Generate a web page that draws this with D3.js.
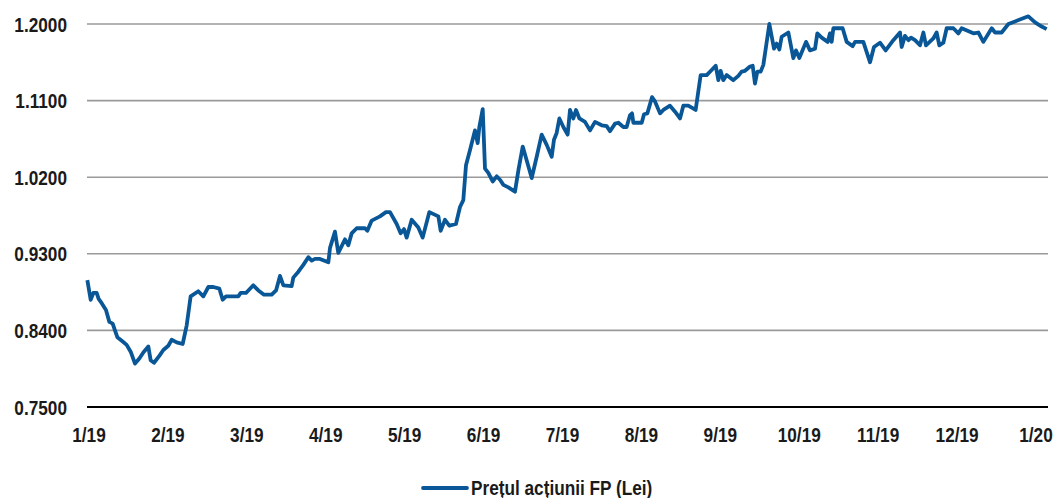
<!DOCTYPE html>
<html>
<head>
<meta charset="utf-8">
<script src="https://cdn.jsdelivr.net/npm/d3@7"></script>
<style>
  body { margin: 0; background: #fff; }
  text { font-family: "Liberation Sans", Arial, sans-serif; font-weight: bold; fill: #1a1a1a; }
</style>
</head>
<body>
<div id="chart"></div>
<script>
// months since 1/19 (x position of each read point) and share price (Lei)
const monthPos = [
  -0.021, 0.021, 0.055, 0.097, 0.122, 0.161, 0.215, 0.258, 0.300, 0.329, 0.359, 0.427, 0.477, 0.528, 0.583, 0.638, 0.688, 0.752, 0.781, 0.824,
  0.891, 0.942, 1.005, 1.048, 1.111, 1.187, 1.238, 1.288, 1.385, 1.449, 1.512, 1.576, 1.652, 1.694, 1.736, 1.892, 1.922, 1.989, 2.082, 2.146,
  2.218, 2.315, 2.370, 2.420, 2.463, 2.568, 2.589, 2.653, 2.716, 2.779, 2.822, 2.864, 2.927, 3.033, 3.054, 3.117, 3.159, 3.244, 3.286, 3.328,
  3.392, 3.497, 3.527, 3.582, 3.687, 3.763, 3.814, 3.899, 3.949, 3.992, 4.025, 4.089, 4.173, 4.228, 4.313, 4.427, 4.456, 4.511, 4.566, 4.650,
  4.701, 4.743, 4.777, 4.828, 4.891, 4.925, 4.946, 4.989, 5.018, 5.060, 5.115, 5.166, 5.208, 5.251, 5.314, 5.398, 5.441, 5.496, 5.610, 5.673,
  5.736, 5.800, 5.863, 5.892, 5.926, 5.960, 6.011, 6.065, 6.095, 6.137, 6.171, 6.214, 6.285, 6.349, 6.412, 6.497, 6.560, 6.602, 6.666, 6.708,
  6.771, 6.813, 6.856, 6.881, 6.898, 7.004, 7.033, 7.075, 7.134, 7.172, 7.236, 7.278, 7.362, 7.426, 7.489, 7.531, 7.594, 7.687, 7.751, 7.827,
  7.890, 7.941, 7.975, 8.004, 8.038, 8.080, 8.165, 8.228, 8.270, 8.313, 8.376, 8.410, 8.439, 8.469, 8.511, 8.545, 8.621, 8.680, 8.714, 8.748,
  8.777, 8.862, 8.925, 8.959, 9.001, 9.086, 9.136, 9.200, 9.229, 9.284, 9.360, 9.390, 9.411, 9.432, 9.550, 9.601, 9.677, 9.707, 9.812, 9.897,
  9.947, 10.023, 10.095, 10.192, 10.277, 10.298, 10.340, 10.383, 10.416, 10.467, 10.530, 10.573, 10.606, 10.699, 10.741, 10.775, 10.826, 10.868, 10.953, 11.016,
  11.058, 11.206, 11.270, 11.333, 11.439, 11.481, 11.565, 11.650, 11.734, 11.903, 11.988, 12.072, 12.135
]
const price = [
  0.899, 0.876, 0.884, 0.884, 0.877, 0.872, 0.864, 0.850, 0.848, 0.840, 0.832, 0.827, 0.823, 0.815, 0.801, 0.807, 0.814, 0.821, 0.805, 0.802,
  0.810, 0.817, 0.822, 0.829, 0.826, 0.824, 0.846, 0.880, 0.886, 0.880, 0.891, 0.891, 0.889, 0.876, 0.880, 0.880, 0.884, 0.884, 0.893, 0.887,
  0.882, 0.882, 0.887, 0.904, 0.893, 0.892, 0.902, 0.909, 0.917, 0.926, 0.922, 0.924, 0.924, 0.920, 0.937, 0.956, 0.931, 0.947, 0.940, 0.954,
  0.960, 0.960, 0.957, 0.969, 0.974, 0.979, 0.979, 0.965, 0.954, 0.959, 0.949, 0.970, 0.961, 0.949, 0.979, 0.974, 0.957, 0.970, 0.963, 0.965,
  0.985, 0.993, 1.034, 1.052, 1.075, 1.060, 1.079, 1.100, 1.030, 1.025, 1.015, 1.021, 1.017, 1.011, 1.008, 1.003, 1.028, 1.056, 1.019, 1.044,
  1.070, 1.058, 1.044, 1.064, 1.072, 1.089, 1.079, 1.070, 1.099, 1.089, 1.099, 1.089, 1.085, 1.075, 1.085, 1.081, 1.080, 1.074, 1.083, 1.084,
  1.079, 1.079, 1.093, 1.095, 1.084, 1.084, 1.094, 1.095, 1.114, 1.109, 1.095, 1.099, 1.104, 1.097, 1.089, 1.104, 1.104, 1.099, 1.140, 1.140,
  1.146, 1.151, 1.134, 1.145, 1.134, 1.140, 1.134, 1.139, 1.144, 1.145, 1.150, 1.151, 1.130, 1.144, 1.144, 1.152, 1.200, 1.171, 1.177, 1.170,
  1.185, 1.190, 1.160, 1.169, 1.160, 1.179, 1.169, 1.171, 1.189, 1.184, 1.179, 1.189, 1.179, 1.195, 1.195, 1.179, 1.174, 1.179, 1.179, 1.155,
  1.173, 1.178, 1.169, 1.181, 1.190, 1.173, 1.186, 1.181, 1.184, 1.181, 1.175, 1.190, 1.175, 1.183, 1.190, 1.175, 1.178, 1.195, 1.195, 1.189,
  1.195, 1.189, 1.190, 1.179, 1.195, 1.190, 1.190, 1.200, 1.203, 1.209, 1.202, 1.197, 1.194
]
const monthLabels = ['1/19', '2/19', '3/19', '4/19', '5/19', '6/19', '7/19', '8/19', '9/19', '10/19', '11/19', '12/19', '1/20']
const yTicks = [0.75, 0.84, 0.93, 1.02, 1.11, 1.20]
const seriesName = 'Prețul acțiunii FP (Lei)'

const width = 1057
const height = 498
const plotLeft = 87
const plotRight = 1048
const narrow = 0.82 // no narrow font installed, squeeze the bold one

const data = monthPos.map((m, i) => ({ m: m, v: price[i] }))

const svg = d3.select('#chart')
              .append('svg')
              .attr('width', width)
              .attr('height', height)

const x = d3.scaleLinear()
            .domain([0, 12])
            .range([89, 1036])

const y = d3.scaleLinear()
            .domain([0.75, 1.20])
            .range([407, 24])

// gridlines
svg.append('g')
   .selectAll('line')
   .data(yTicks.slice(1))
   .enter().append('line')
   .attr('x1', plotLeft)
   .attr('x2', plotRight)
   .attr('y1', d => y(d))
   .attr('y2', d => y(d))
   .attr('stroke', '#9a9a9a')
   .attr('stroke-width', 1.6)

// y labels
svg.append('g')
   .selectAll('text')
   .data(yTicks)
   .enter().append('text')
   .attr('transform', d => `translate(67, ${y(d) + 7.5}) scale(${narrow}, 1)`)
   .attr('text-anchor', 'end')
   .attr('font-size', 21)
   .text(d => d.toFixed(4))

// bottom axis
svg.append('line')
   .attr('x1', plotLeft)
   .attr('x2', plotRight)
   .attr('y1', y(0.75))
   .attr('y2', y(0.75))
   .attr('stroke', '#000')
   .attr('stroke-width', 2)

svg.append('g')
   .selectAll('text')
   .data(monthLabels)
   .enter().append('text')
   .attr('transform', (d, i) => `translate(${x(i)}, 442) scale(${narrow}, 1)`)
   .attr('text-anchor', 'middle')
   .attr('font-size', 21)
   .text(d => d)

const line = d3.line()
               .x(d => x(d.m))
               .y(d => y(d.v))

svg.append('path')
   .datum(data)
   .attr('fill', 'none')
   .attr('stroke', '#0a5797')
   .attr('stroke-width', 3.8)
   .attr('stroke-linejoin', 'round')
   .attr('d', line)

// legend
const legend = svg.append('g')
legend.append('line')
      .attr('x1', 423)
      .attr('x2', 467)
      .attr('y1', 488)
      .attr('y2', 488)
      .attr('stroke', '#0a5797')
      .attr('stroke-width', 3.8)
      .attr('stroke-linecap', 'round')
legend.append('text')
      .attr('transform', `translate(471, 495) scale(${narrow}, 1)`)
      .attr('font-size', 21)
      .text(seriesName)
</script>
</body>
</html>
